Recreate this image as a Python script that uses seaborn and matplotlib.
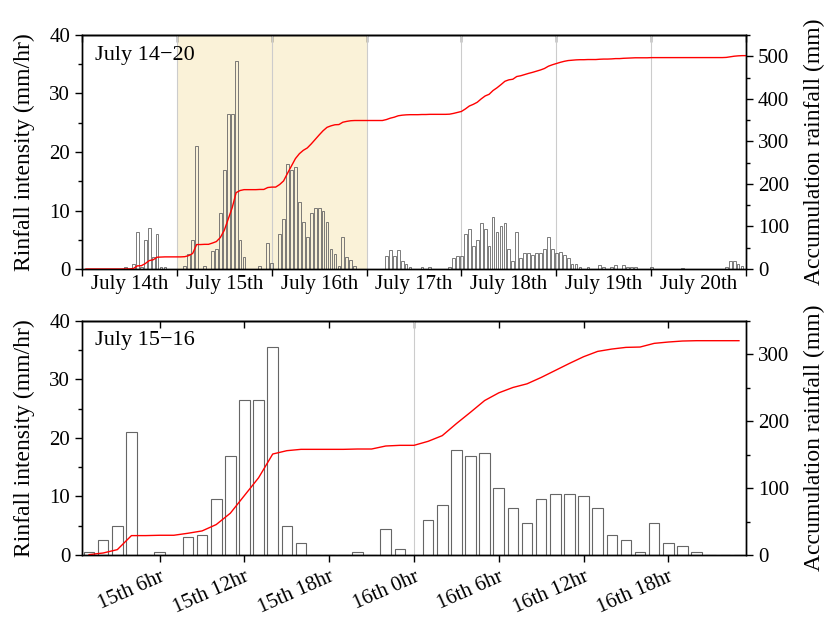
import numpy as np
import pandas as pd
import matplotlib
matplotlib.use('Agg')
import matplotlib.pyplot as plt
import seaborn as sns
from matplotlib.ticker import MultipleLocator

# hourly rainfall intensity (mm/hr)
jul14 = [0, 0, 0, 0, 0, 0, 0, 0, 0, 0, 0.3, 0, 0.8, 6.3, 0.3, 5.0, 7.0, 2.0, 6.0, 0.4, 0.4, 0, 0, 0]
jul15_16 = [0, 0.5, 2.5, 5, 21, 0, 0.5, 0, 3, 3.5, 9.5, 17, 26.5, 26.5, 35.5, 5, 2, 0, 0, 0, 0.5, 0, 4.5, 1,
            0, 6, 8.5, 18, 17, 17.5, 11.5, 8, 5.5, 9.5, 10.5, 10.5, 10, 8, 3.5, 2.5, 0.5, 5.5, 2, 1.5, 0.5, 0, 0, 0]
jul17 = [0, 0, 0, 0, 2.2, 3.3, 2.3, 3.3, 1.4, 0.8, 0.4, 0, 0, 0.4, 0, 0.4, 0, 0, 0, 0, 0.4, 1.8, 2.3, 2.3]
jul18 = [5.9, 6.9, 3.9, 4.9, 7.9, 6.9, 3.9, 8.9, 6.4, 7.4, 7.9, 3.4, 1.4, 6.4, 1.8, 2.8, 2.8, 2.4, 2.8, 2.8,
         3.4, 5.4, 3.4, 2.8]
jul19 = [2.9, 2.4, 1.8, 0.8, 0.8, 0.4, 0, 0.4, 0, 0, 0.7, 0.4, 0, 0.4, 0.7, 0, 0.7, 0.4, 0.4, 0.4, 0, 0, 0, 0.4]
jul20 = [0, 0, 0, 0, 0, 0, 0, 0.1, 0, 0, 0, 0, 0, 0, 0, 0, 0, 0, 0.4, 1.4, 1.4, 0.85, 0.5, 0]

day_labels = ['July 14th', 'July 15th', 'July 16th', 'July 17th', 'July 18th', 'July 19th', 'July 20th']
hour_labels = ['15th 6hr', '15th 12hr', '15th 18hr', '16th 0hr', '16th 6hr', '16th 12hr', '16th 18hr']

plt.rcParams['font.family'] = ['Liberation Serif', 'DejaVu Serif']
plt.rcParams['axes.linewidth'] = 1.0

# tablas
week = pd.DataFrame({'hour': np.arange(1, 169),
                     'rain': np.concatenate([jul14, jul15_16, jul17, jul18, jul19, jul20])})
week['accum'] = week['rain'].cumsum()

two = pd.DataFrame({'hour': np.arange(1, 48), 'rain': jul15_16[1:]})
two['accum'] = two['rain'].cumsum()

fig = plt.figure(figsize=(8.29, 6.17), dpi=100)
ax1 = fig.add_axes([0.0989, 0.564, 0.801, 0.3793])
ax3 = fig.add_axes([0.0989, 0.1005, 0.801, 0.3793])

bar_col = '#666666'
grid_col = '#cccccc'

# ---- panel superior: July 14-20 ----
ax1.axvspan(24, 72, color='#FAF2D8', lw=0, zorder=0)
for d in range(24, 168, 24):
    ax1.axvline(d, color=grid_col, lw=0.8, zorder=0.5)
sns.barplot(data=week, x='hour', y='rain', native_scale=True, width=0.7, fill=False,
            color=bar_col, linewidth=0.6, errorbar=None, ax=ax1)
ax1.set_xlim(0, 168)
ax1.set_ylim(0, 40)
ax1.set_xticks(range(0, 169, 24))
ax1.set_xticklabels([])
ax1.set_xticks(range(12, 168, 24), minor=True)
ax1.set_xticklabels(day_labels, minor=True)
ax1.tick_params(axis='x', which='major', direction='out', length=5, width=1)
ax1.tick_params(axis='x', which='minor', length=0, labelsize=15, pad=4)
ax1.yaxis.set_major_locator(MultipleLocator(10))
ax1.yaxis.set_minor_locator(MultipleLocator(5))
ax1.tick_params(axis='y', which='major', direction='out', length=5, width=1, labelsize=15)
ax1.tick_params(axis='y', which='minor', direction='out', length=3, width=1)
ax1.set_xlabel('')
ax1.set_ylabel('Rinfall intensity (mm/hr)', fontsize=17, labelpad=10)
ax1.text(0.02, 0.955, 'July 14\u221220', transform=ax1.transAxes, fontsize=16, va='top', ha='left')

top1 = ax1.secondary_xaxis('top')
top1.set_xticks(range(0, 169, 24), labels=[])
top1.tick_params(direction='in', length=5, width=1, color='black')

ax2 = ax1.twinx()
sns.lineplot(data=week, x='hour', y='accum', color='red', lw=1.0, ax=ax2)
ax2.set_ylim(0, 550)
ax2.yaxis.set_major_locator(MultipleLocator(100))
ax2.yaxis.set_minor_locator(MultipleLocator(50))
ax2.tick_params(axis='y', which='major', direction='out', length=5, width=1, labelsize=15)
ax2.tick_params(axis='y', which='minor', direction='out', length=3, width=1)
ax2.set_ylabel('Accumulation rainfall (mm)', fontsize=17, labelpad=11)
ax2.set_xlim(0, 168)

# ---- panel inferior: July 15-16 ----
ax3.axvline(24, color=grid_col, lw=0.8, zorder=0.5)
sns.barplot(data=two, x='hour', y='rain', native_scale=True, width=0.75, fill=False,
            color=bar_col, linewidth=0.8, errorbar=None, ax=ax3)
ax3.set_xlim(0.5, 47.5)
ax3.set_ylim(0, 40)
ax3.set_xticks(range(6, 43, 6))
ax3.set_xticklabels(hour_labels, rotation=24, ha='right', rotation_mode='anchor')
ax3.tick_params(axis='x', direction='out', length=5, width=1, labelsize=15, pad=4)
ax3.yaxis.set_major_locator(MultipleLocator(10))
ax3.yaxis.set_minor_locator(MultipleLocator(5))
ax3.tick_params(axis='y', which='major', direction='out', length=5, width=1, labelsize=15)
ax3.tick_params(axis='y', which='minor', direction='out', length=3, width=1)
ax3.set_xlabel('')
ax3.set_ylabel('Rinfall intensity (mm/hr)', fontsize=17, labelpad=10)
ax3.text(0.02, 0.955, 'July 15\u221216', transform=ax3.transAxes, fontsize=16, va='top', ha='left')

top3 = ax3.secondary_xaxis('top')
top3.set_xticks(range(6, 43, 6), labels=[])
top3.tick_params(direction='in', length=5, width=1, color='black')

ax4 = ax3.twinx()
sns.lineplot(data=two, x='hour', y='accum', color='red', lw=1.0, ax=ax4)
ax4.set_ylim(0, 350)
ax4.yaxis.set_major_locator(MultipleLocator(100))
ax4.yaxis.set_minor_locator(MultipleLocator(50))
ax4.tick_params(axis='y', which='major', direction='out', length=5, width=1, labelsize=15)
ax4.tick_params(axis='y', which='minor', direction='out', length=3, width=1)
ax4.set_ylabel('Accumulation rainfall (mm)', fontsize=17, labelpad=11)
ax4.set_xlim(0.5, 47.5)

fig.savefig('out.png', dpi=100)
